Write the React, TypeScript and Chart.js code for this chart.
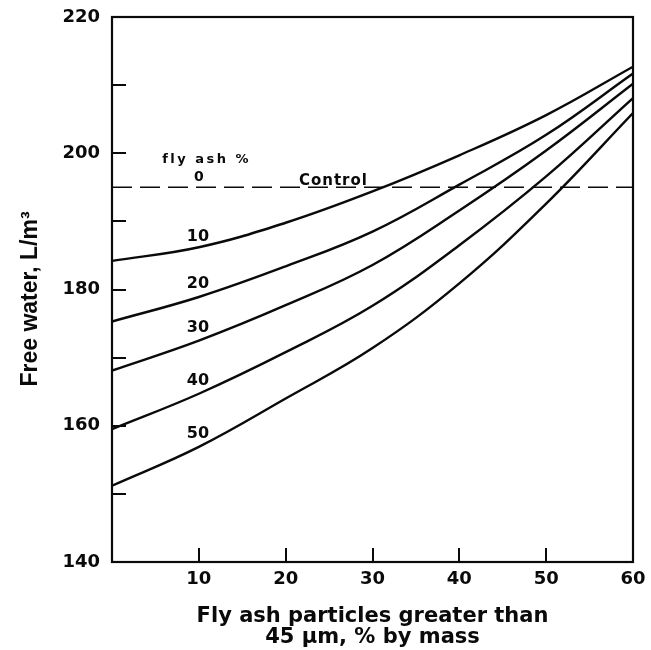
import React, { useEffect, useRef } from 'react';
import { Chart, registerables } from 'chart.js';

Chart.register(...registerables);

// ---- data ----
const xValues = [0, 10, 20, 30, 40, 50, 60];
const flyAsh10 = [184.2, 186.2, 189.8, 194.4, 199.7, 205.6, 212.7];
const flyAsh20 = [175.3, 178.9, 183.4, 188.5, 195.4, 202.7, 211.7];
const flyAsh30 = [168.1, 172.5, 177.7, 183.6, 191.6, 200.4, 210.2];
const flyAsh40 = [159.5, 164.7, 170.8, 177.6, 186.5, 196.6, 208.1];
const flyAsh50 = [151.2, 156.9, 164.0, 171.4, 180.9, 192.6, 205.9];
const seriesNames = ['10', '20', '30', '40', '50'];
const controlX = [0, 60];
const controlY = [195, 195];

const xTickValues = [10, 20, 30, 40, 50, 60];
const yTickValues = [140, 160, 180, 200, 220];
const xInnerTicks = [10, 20, 30, 40, 50];
const yInnerTicks = [150, 160, 170, 180, 190, 200, 210];

// label anchors in data units
const curveLabelX = 9.9;
const curveLabelY = [187.7, 180.8, 174.4, 166.6, 158.8];

const INK = '#0a0a0a';

const decorations = {
  id: 'decorations',
  afterDraw(chart: any) {
    const { ctx, chartArea: a } = chart;
    const xs = chart.scales.x;
    const ys = chart.scales.y;
    ctx.save();
    ctx.strokeStyle = INK;
    ctx.fillStyle = INK;
    // frame
    ctx.lineWidth = 2.2;
    ctx.strokeRect(a.left, a.top, a.right - a.left, a.bottom - a.top);
    // inward ticks
    ctx.lineWidth = 2;
    ctx.beginPath();
    yInnerTicks.forEach((v) => {
      const py = Math.round(ys.getPixelForValue(v));
      ctx.moveTo(a.left, py);
      ctx.lineTo(a.left + 14, py);
    });
    xInnerTicks.forEach((v) => {
      const px = Math.round(xs.getPixelForValue(v));
      ctx.moveTo(px, a.bottom);
      ctx.lineTo(px, a.bottom - 14);
    });
    ctx.stroke();

    // curve labels
    ctx.textAlign = 'center';
    ctx.textBaseline = 'middle';
    ctx.font = 'bold 16px "DejaVu Sans"';
    seriesNames.forEach((n, i) => {
      ctx.fillText(n, xs.getPixelForValue(curveLabelX), ys.getPixelForValue(curveLabelY[i]));
    });
    ctx.font = 'bold 14px "DejaVu Sans"';
    ctx.fillText('0', xs.getPixelForValue(10), ys.getPixelForValue(196.4));

    ctx.textBaseline = 'alphabetic';
    ctx.font = 'bold 13px "DejaVu Sans"';
    (ctx as any).letterSpacing = '2.5px';
    ctx.fillText('fly ash %', xs.getPixelForValue(10.9), ys.getPixelForValue(198.6));
    ctx.font = 'bold 15px "DejaVu Sans"';
    (ctx as any).letterSpacing = '1px';
    ctx.fillText('Control', xs.getPixelForValue(25.5), ys.getPixelForValue(195.3));
    (ctx as any).letterSpacing = '0px';

    // axis titles
    const cx = (a.left + a.right) / 2;
    ctx.font = 'bold 21px "DejaVu Sans"';
    ctx.fillText('Fly ash particles greater than', cx, 622);
    ctx.fillText('45 µm, % by mass', cx, 643);

    ctx.save();
    ctx.translate(37, 299);
    ctx.rotate(-Math.PI / 2);
    ctx.font = 'bold 23px "Liberation Sans"';
    ctx.fillText('Free water, L/m³', 0, 0);
    ctx.restore();

    ctx.restore();
  },
};

export default function App() {
  const ref = useRef<HTMLCanvasElement | null>(null);

  useEffect(() => {
    document.body.style.margin = '0';
    const canvas = ref.current;
    if (!canvas) return;
    const series = [flyAsh10, flyAsh20, flyAsh30, flyAsh40, flyAsh50];
    const datasets: any[] = series.map((vals, i) => ({
      label: seriesNames[i] + ' % fly ash',
      data: xValues.map((xv, j) => ({ x: xv, y: vals[j] })),
      borderColor: INK,
      borderWidth: 2.4,
      pointRadius: 0,
      tension: 0.4,
      fill: false,
    }));
    datasets.push({
      label: 'Control',
      data: controlX.map((xv, j) => ({ x: xv, y: controlY[j] })),
      borderColor: INK,
      borderWidth: 1.6,
      borderDash: [20, 8],
      pointRadius: 0,
      fill: false,
    });

    const chart = new Chart(canvas, {
      type: 'line',
      data: { datasets },
      options: {
        animation: false,
        responsive: false,
        devicePixelRatio: 1,
        layout: { padding: { left: 0, top: 17, right: 18, bottom: 0 } },
        plugins: { legend: { display: false }, tooltip: { enabled: false } },
        scales: {
          x: {
            type: 'linear',
            min: 0,
            max: 60,
            grid: { display: false, drawTicks: false },
            border: { display: false },
            afterBuildTicks: (s: any) => {
              s.ticks = xTickValues.map((v) => ({ value: v }));
            },
            afterFit: (s: any) => {
              s.height = 88;
              s.paddingLeft = 0;
              s.paddingRight = 0;
            },
            ticks: {
              font: { family: 'DejaVu Sans', size: 18, weight: 'bold' },
              color: INK,
              padding: 7,
              maxRotation: 0,
              autoSkip: false,
            },
          },
          y: {
            type: 'linear',
            min: 140,
            max: 220,
            grid: { display: false, drawTicks: false },
            border: { display: false },
            afterBuildTicks: (s: any) => {
              s.ticks = yTickValues.map((v) => ({ value: v }));
            },
            afterFit: (s: any) => {
              s.width = 112;
              s.paddingTop = 0;
              s.paddingBottom = 0;
            },
            ticks: {
              font: { family: 'DejaVu Sans', size: 18, weight: 'bold' },
              color: INK,
              padding: 12,
              autoSkip: false,
            },
          },
        },
      } as any,
      plugins: [decorations],
    });
    return () => chart.destroy();
  }, []);

  return (
    <div style={{ width: 651, height: 650, background: '#fff' }}>
      <canvas ref={ref} width={651} height={650} style={{ display: 'block', width: 651, height: 650 }} />
    </div>
  );
}
